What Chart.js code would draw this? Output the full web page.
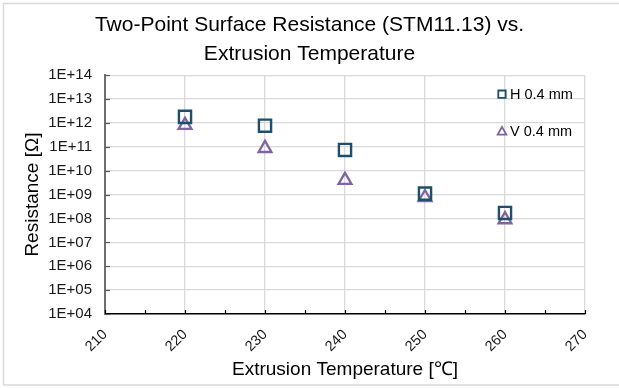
<!DOCTYPE html>
<html>
<head>
<meta charset="utf-8">
<script src="https://cdn.jsdelivr.net/npm/chart.js@4.4.1/dist/chart.umd.min.js"></script>
<style>
  html, body { margin: 0; padding: 0; background: #fff; }
</style>
</head>
<body>
<canvas id="resChart" width="619" height="388"></canvas>
<script>
// values (ohms)
const temps = [220, 230, 240, 250, 260];
const resH = [1.8e12, 7.7e11, 7.4e10, 1.1e9, 1.7e8];
const resV = [8e11, 8.7e10, 4e9, 7.6e8, 9e7];
const xTicks = [210, 220, 230, 240, 250, 260, 270];
const yTicks = [1e4, 1e5, 1e6, 1e7, 1e8, 1e9, 1e10, 1e11, 1e12, 1e13, 1e14];

const FONT = '"Liberation Sans", Arial, sans-serif';
const GRID = '#d9d9d9';

const toExp = (v) => {
  const e = Math.round(Math.log10(v));
  return '1E+' + String(e).padStart(2, '0');
};

// light frame round the chart, like the Excel chart border
const framePlugin = {
  id: 'frame',
  beforeDraw(chart) {
    const ctx = chart.ctx;
    ctx.save();
    ctx.fillStyle = '#fff';
    ctx.fillRect(0, 0, chart.width, chart.height);
    ctx.strokeStyle = GRID;
    ctx.lineWidth = 1.5;
    ctx.beginPath();
    ctx.moveTo(3.5, chart.height - 3);
    ctx.lineTo(3.5, 3.5);
    ctx.lineTo(chart.width + 2, 3.5);
    ctx.moveTo(3.5, chart.height - 3);
    ctx.lineTo(chart.width + 2, chart.height - 3);
    ctx.stroke();
    ctx.restore();
  }
};

// short tick marks pointing into the plot
const innerTicks = {
  id: 'innerTicks',
  afterDatasetsDraw(chart) {
    const ctx = chart.ctx;
    const x = chart.scales.x, y = chart.scales.y;
    const area = chart.chartArea;
    ctx.save();
    ctx.lineWidth = 1.2;
    ctx.strokeStyle = '#595959';
    yTicks.forEach(v => {
      const py = Math.round(y.getPixelForValue(v)) + 0.5;
      ctx.beginPath();
      ctx.moveTo(area.left, py);
      ctx.lineTo(area.left + 5, py);
      ctx.stroke();
    });
    ctx.strokeStyle = '#000';
    for (let v = xTicks[0]; v <= xTicks[xTicks.length - 1]; v += 5) {
      const px = Math.round(x.getPixelForValue(v)) + 0.5;
      ctx.beginPath();
      ctx.moveTo(px, area.bottom);
      ctx.lineTo(px, area.bottom - 4);
      ctx.stroke();
    }
    ctx.restore();
  }
};

// legend drawn inside the plot, top right
const boxLegend = {
  id: 'boxLegend',
  afterDraw(chart) {
    const ctx = chart.ctx;
    const area = chart.chartArea;
    const x0 = area.right - 83;
    const rows = [area.top + 19, area.top + 56];
    ctx.save();
    chart.data.datasets.forEach((ds, i) => {
      const cy = rows[i];
      ctx.strokeStyle = ds.borderColor;
      ctx.lineWidth = 1.8;
      ctx.beginPath();
      if (ds.pointStyle === 'rect') {
        ctx.rect(x0 - 3.7, cy - 3.7, 7.4, 7.4);
      } else {
        ctx.moveTo(x0, cy - 4.3);
        ctx.lineTo(x0 + 4.3, cy + 3.4);
        ctx.lineTo(x0 - 4.3, cy + 3.4);
        ctx.closePath();
      }
      ctx.stroke();
      ctx.fillStyle = '#000';
      ctx.font = '14.5px ' + FONT;
      ctx.textBaseline = 'middle';
      ctx.textAlign = 'left';
      ctx.fillText(ds.label, x0 + 8, cy + 0.5);
    });
    ctx.restore();
  }
};

const data = {
  datasets: [
    {
      label: 'H 0.4 mm',
      data: temps.map((t, i) => ({ x: t, y: resH[i] })),
      showLine: false,
      pointStyle: 'rect',
      pointRadius: 8.6,
      pointBorderWidth: 2.4,
      borderColor: '#1d4f6c',
      backgroundColor: 'rgba(0,0,0,0)'
    },
    {
      label: 'V 0.4 mm',
      data: temps.map((t, i) => ({ x: t, y: resV[i] })),
      showLine: false,
      pointStyle: 'triangle',
      pointRadius: 7.4,
      pointBorderWidth: 2.3,
      borderColor: '#8064a2',
      backgroundColor: 'rgba(0,0,0,0)'
    }
  ]
};

const config = {
  type: 'scatter',
  data: data,
  plugins: [framePlugin, innerTicks, boxLegend],
  options: {
    responsive: false,
    animation: false,
    layout: { padding: 0 },
    plugins: {
      legend: { display: false },
      tooltip: { enabled: false },
      title: {
        display: true,
        text: ['Two-Point Surface Resistance (STM11.13) vs.', 'Extrusion Temperature'],
        color: '#000',
        font: { family: FONT, size: 21, weight: 'normal', lineHeight: 1.35 },
        padding: { top: 11.5, bottom: 7 }
      }
    },
    scales: {
      x: {
        type: 'linear',
        min: 210,
        max: 270,
        afterBuildTicks: (s) => { s.ticks = xTicks.map(v => ({ value: v })); },
        afterFit: (s) => { s.height = 74; s.paddingRight = 34; },
        grid: { color: GRID, lineWidth: 1.3, drawTicks: false },
        border: { color: '#000', width: 1.5 },
        ticks: {
          minRotation: 45,
          maxRotation: 45,
          padding: 12,
          color: '#1a1a1a',
          font: { family: FONT, size: 14.5 }
        },
        title: {
          display: true,
          text: 'Extrusion Temperature [℃]',
          color: '#000',
          font: { family: FONT, size: 19 },
          padding: { top: 0, bottom: 7 }
        }
      },
      y: {
        type: 'logarithmic',
        min: 1e4,
        max: 1e14,
        afterBuildTicks: (s) => { s.ticks = yTicks.map(v => ({ value: v })); },
        afterFit: (s) => { s.width = 105; },
        grid: { color: GRID, lineWidth: 1.3, drawTicks: false },
        border: { color: '#6f6f6f', width: 2 },
        ticks: {
          padding: 13,
          color: '#1a1a1a',
          font: { family: FONT, size: 15 },
          callback: (v) => toExp(v)
        },
        title: {
          display: true,
          text: 'Resistance [Ω]',
          color: '#000',
          font: { family: FONT, size: 19 },
          padding: { top: 21, bottom: 0 }
        }
      }
    }
  }
};

new Chart(document.getElementById('resChart'), config);
</script>
</body>
</html>
